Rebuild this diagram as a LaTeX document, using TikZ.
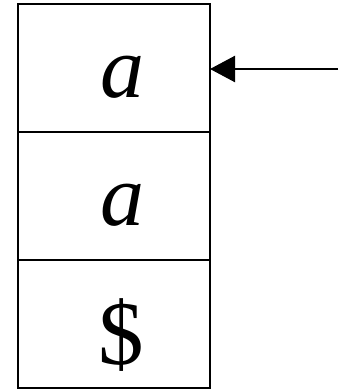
\documentclass[tikz,border=0pt]{standalone}
\usepackage{fontspec}
\setmainfont{Liberation Serif}
\usetikzlibrary{arrows.meta}
\begin{document}
\begin{tikzpicture}[x=1pt,y=-1pt,
  cell/.style={draw,line width=2.6pt,minimum width=192pt,minimum height=128pt,inner sep=0pt,outer sep=0pt},
  sym/.style={anchor=base,inner sep=0pt,font=\fontsize{88}{88}\selectfont},
  dol/.style={anchor=base,inner sep=0pt,font=\fontsize{91}{91}\selectfont}]
\useasboundingbox (0,0) rectangle (345,391);
\node[cell] (c1) at (114,68) {};
\node[cell] (c2) at (114,196) {};
\node[cell] (c3) at (114,324) {};
\node[sym] (t1) at (122,97) {\itshape a};
\node[sym] (t2) at (122,225) {\itshape a};
\node[dol] (t3) at (121,364) {\$};
\coordinate (s) at (338,69);
\draw[line width=2.4pt,-{Triangle[length=25pt,width=26pt]}] (s) -- (c1.east |- s);
\end{tikzpicture}
\end{document}
